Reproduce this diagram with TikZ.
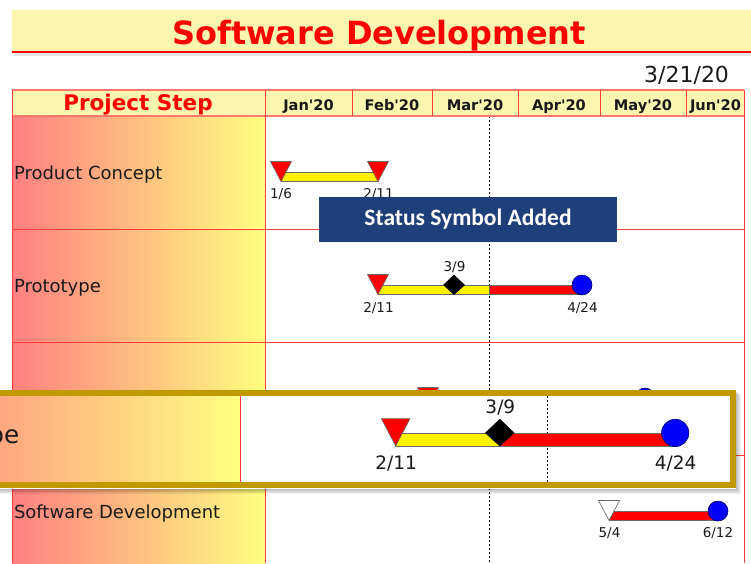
\documentclass[tikz,border=0pt]{standalone}
\usepackage{fontspec}
\setmainfont{DejaVu Sans}
\newfontfamily\statusfont{Carlito}
\usetikzlibrary{calc}

\definecolor{bandyellow}{RGB}{250,246,176}
\definecolor{gridred}{RGB}{255,60,60}
\definecolor{headline}{RGB}{255,120,110}
\definecolor{framegold}{RGB}{192,154,0}
\definecolor{statusnavy}{RGB}{31,63,122}
\definecolor{outlinegray}{RGB}{105,105,105}
\definecolor{inktext}{RGB}{25,25,25}

\tikzset{
  every node/.style={inner sep=0pt, outer sep=0pt},
  grid/.style={draw=gridred, line width=0.9pt},
  stepcol/.style={left color=red!50, right color=yellow!50},
  rowlabel/.style={anchor=base west, text=inktext, font=\fontsize{18}{20}\selectfont},
  datelabel/.style={anchor=base, text=inktext, font=\fontsize{13.5}{15}\selectfont},
  month/.style={anchor=base, text=inktext, font=\bfseries\fontsize{14.6}{16}\selectfont},
  barline/.style={draw=outlinegray, line width=0.6pt},
  today/.style={black, line width=0.7pt, dash pattern=on 2pt off 2pt},
  pics/startmark/.style={code={
    \filldraw[fill=red, draw=outlinegray, line width=0.6pt]
      (-10.5,-10.5) -- (10.5,-10.5) -- (0,9.5) -- cycle;}},
  pics/openmark/.style={code={
    \filldraw[fill=white, draw=outlinegray, line width=0.6pt]
      (-10.5,-10.5) -- (10.5,-10.5) -- (0,9.5) -- cycle;}},
  pics/statusmark/.style={code={
    \filldraw[fill=black, draw=black, line width=0.5pt]
      (0,-10) -- (10.5,0) -- (0,9.5) -- (-10.5,0) -- cycle;}},
  pics/endmark/.style={code={
    \filldraw[fill=blue, draw=black!60!blue, line width=0.6pt] (0,0) circle[radius=10];}},
}

% The Prototype row; #1 is where the yellow (done) part of the bar stops,
% #2 is the left edge of the step name
\newcommand\protorow[2]{%
  \fill[stepcol] (12,229) rectangle (265,342);
  \draw[grid] (265,229) -- (265,342);
  \node[rowlabel] (proto-name) at (#2,292.5) {Prototype};
  \coordinate (proto-s) at (378,285);
  \coordinate (proto-m) at (454,285);
  \coordinate (proto-e) at (582,285);
  \filldraw[fill=red, barline] (#1,285) rectangle ($(proto-e)+(0,9.5)$);
  \filldraw[fill=yellow, barline] (proto-s) rectangle (#1,294.5);
  \pic at (proto-s) {startmark};
  \pic at (proto-m) {statusmark};
  \pic at (proto-e) {endmark};
  \node[datelabel] (proto-sd) at (378.5,312) {2/11};
  \node[datelabel] (proto-md) at (454.5,271) {3/9};
  \node[datelabel] (proto-ed) at (582.5,312) {4/24};
}

\begin{document}
\begin{tikzpicture}[x=1pt, y=-1pt]
\useasboundingbox (0,0) rectangle (751,563);

% title band
\fill[bandyellow] (12,10) rectangle (751,51);
\fill[black, opacity=0.10] (14,53) rectangle (751,56);
\draw[red, line width=2.2pt] (12,52) -- (751,52);
\node[anchor=base, text=red, font=\bfseries\fontsize{32}{36}\selectfont] (title) at (379,44) {Software Development};
\node[anchor=base east, text=inktext, font=\fontsize{22}{24}\selectfont] (status-date) at (729,82.7) {3/21/20};

% header row
\fill[bandyellow] (12,90) rectangle (744,116);
\node[anchor=base, text=red, font=\bfseries\fontsize{21.5}{24}\selectfont] (step-head) at (138,110.7) {Project Step};
\foreach \m/\c [count=\i] in {Jan/308.5, Feb/392, Mar/475, Apr/559, May/643, Jun/715.5}
  \node[month] (month-\i) at (\c,110.3) {\m\textquotesingle 20};

% step column and status line
\shade[stepcol] (12,116) rectangle (265,563);
\draw[today] (489,116) -- (489,563);

\protorow{489}{14}

% grid
\draw[headline, line width=1.6pt] (12,90) -- (744,90);
\draw[headline, line width=1.2pt] (12,116) -- (744,116);
\foreach \x in {352,432,518,600,686}
  \draw[grid] (\x,90) -- (\x,116);
\foreach \x in {12,265,744}
  \draw[grid] (\x,90) -- (\x,563);
\foreach \y in {229,342,455}
  \draw[grid] (12,\y) -- (744,\y);

% Product Concept
\node[rowlabel] (concept-name) at (14,179.5) {Product Concept};
\coordinate (concept-s) at (281,172);
\coordinate (concept-e) at (378,172);
\filldraw[fill=yellow, barline] (concept-s) rectangle ($(concept-e)+(0,9.5)$);
\pic at (concept-s) {startmark};
\pic at (concept-e) {startmark};
\node[datelabel] (concept-sd) at (281,198) {1/6};
\node[datelabel] (concept-ed) at (378.5,198) {2/11};

% third step (mostly covered by the close-up)
\coordinate (third-s) at (428,398);
\coordinate (third-e) at (645,398);
\filldraw[fill=red, barline] (third-s) rectangle ($(third-e)+(0,9.5)$);
\pic at (third-s) {startmark};
\pic at (third-e) {endmark};

% Software Development
\node[rowlabel] (dev-name) at (14,518.5) {Software Development};
\coordinate (dev-s) at (609,511);
\coordinate (dev-e) at (718,511);
\filldraw[fill=red, barline] (dev-s) rectangle ($(dev-e)+(0,9.5)$);
\pic at (dev-s) {openmark};
\pic at (dev-e) {endmark};
\node[datelabel] (dev-sd) at (609.5,537) {5/4};
\node[datelabel] (dev-ed) at (718,537) {6/12};

% callout
\node[fill=statusnavy, minimum width=298pt, minimum height=45pt, text=white,
      text height=16.5pt, text depth=5pt,
      font=\statusfont\bfseries\fontsize{23.5}{26}\selectfont] (status) at (468,219.5) {Status Symbol Added};

% close-up of the Prototype row
\foreach \d in {1,2,3,4,5}
  \fill[black, opacity=0.06] (-20+\d,390+\d) rectangle (736+\d,489+\d);
\fill[white] (-20,390) rectangle (736,489);
\begin{scope}
  \clip (-20,396) rectangle (729.6,482);
  \begin{scope}[shift={(-122.3,42.4)}, scale=1.37, transform shape, name prefix=zoom-]
    \draw[today] (489,229) -- (489,342);
    \protorow{454}{16.5}
  \end{scope}
\end{scope}
\draw[framegold, line width=6pt] (-20,393) rectangle (732.6,485.2);
\end{tikzpicture}
\end{document}
